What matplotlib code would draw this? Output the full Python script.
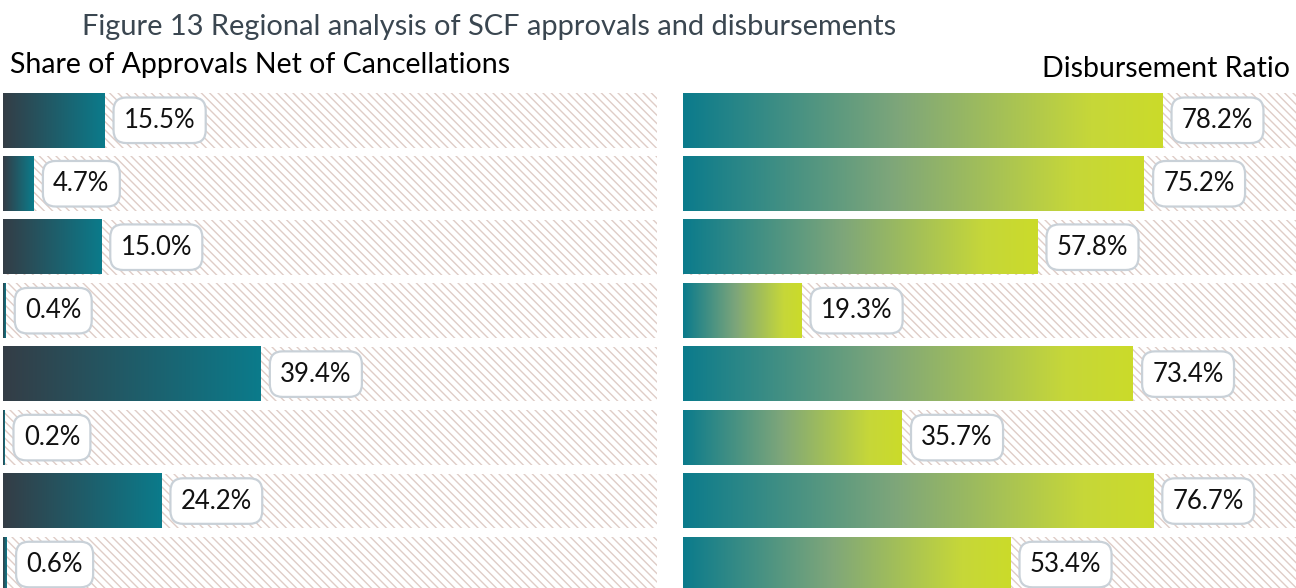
import matplotlib.pyplot as plt
import numpy as np
from matplotlib.colors import LinearSegmentedColormap

# values (8 regions, top to bottom)
approvals_share = [15.5, 4.7, 15.0, 0.4, 39.4, 0.2, 24.2, 0.6]
disbursement_ratio = [78.2, 75.2, 57.8, 19.3, 73.4, 35.7, 76.7, 53.4]

title = 'Figure 13 Regional analysis of SCF approvals and disbursements'
left_title = 'Share of Approvals Net of Cancellations'
right_title = 'Disbursement Ratio'

plt.rcParams['font.family'] = ['Lato', 'DejaVu Sans']
plt.rcParams['hatch.linewidth'] = 1.0
plt.rcParams['hatch.color'] = '#dfcdc7'

cmap_left = LinearSegmentedColormap.from_list('left', ['#343d46', '#0b7b8b'])
cmap_right = LinearSegmentedColormap.from_list(
    'right', [(0, '#0b7b8c'), (0.45, '#7ea67a'), (0.85, '#c6d739'), (1, '#cbdb2a')])

fig = plt.figure(figsize=(12.96, 5.88), dpi=100)

bar_h = 0.86
grad = np.linspace(0, 1, 256).reshape(1, -1)


def draw_panel(ax, values, cmap):
    y = np.arange(len(values))
    ax.barh(y, 100, height=bar_h, color='white', hatch='\\\\\\\\',
            edgecolor='#dfcdc7', linewidth=0, zorder=1)
    for yi, v in zip(y, values):
        ax.imshow(grad, extent=[0, v, yi + bar_h / 2, yi - bar_h / 2],
                  aspect='auto', cmap=cmap, zorder=2, interpolation='bilinear')
        ax.annotate(f'{v:.1f}%', xy=(v, yi), xytext=(14, 0), textcoords='offset points',
                    ha='left', va='center', fontsize=18.5, color='#111111', zorder=3,
                    bbox=dict(boxstyle='round,pad=0.4,rounding_size=0.5', fc='white',
                              ec='#c9d1d8', lw=1.6))
    ax.set_xlim(0, 100)
    ax.set_ylim(7.37, -0.43)
    ax.axis('off')


ax1 = fig.add_axes([3 / 1296, 0, 654 / 1296, 1 - 93 / 588])
draw_panel(ax1, approvals_share, cmap_left)

ax2 = fig.add_axes([683 / 1296, 0, 613 / 1296, 1 - 93 / 588])
draw_panel(ax2, disbursement_ratio, cmap_right)

fig.text(82 / 1296, 1 - 27 / 588, title, fontsize=20.9, color='#3a4650', ha='left', va='center')
fig.text(10 / 1296, 1 - 65 / 588, left_title, fontsize=20.5, color='black', ha='left', va='center')
fig.text(1290 / 1296, 1 - 69 / 588, right_title, fontsize=20.5, color='black', ha='right', va='center')

fig.savefig('out.png', dpi=100)
